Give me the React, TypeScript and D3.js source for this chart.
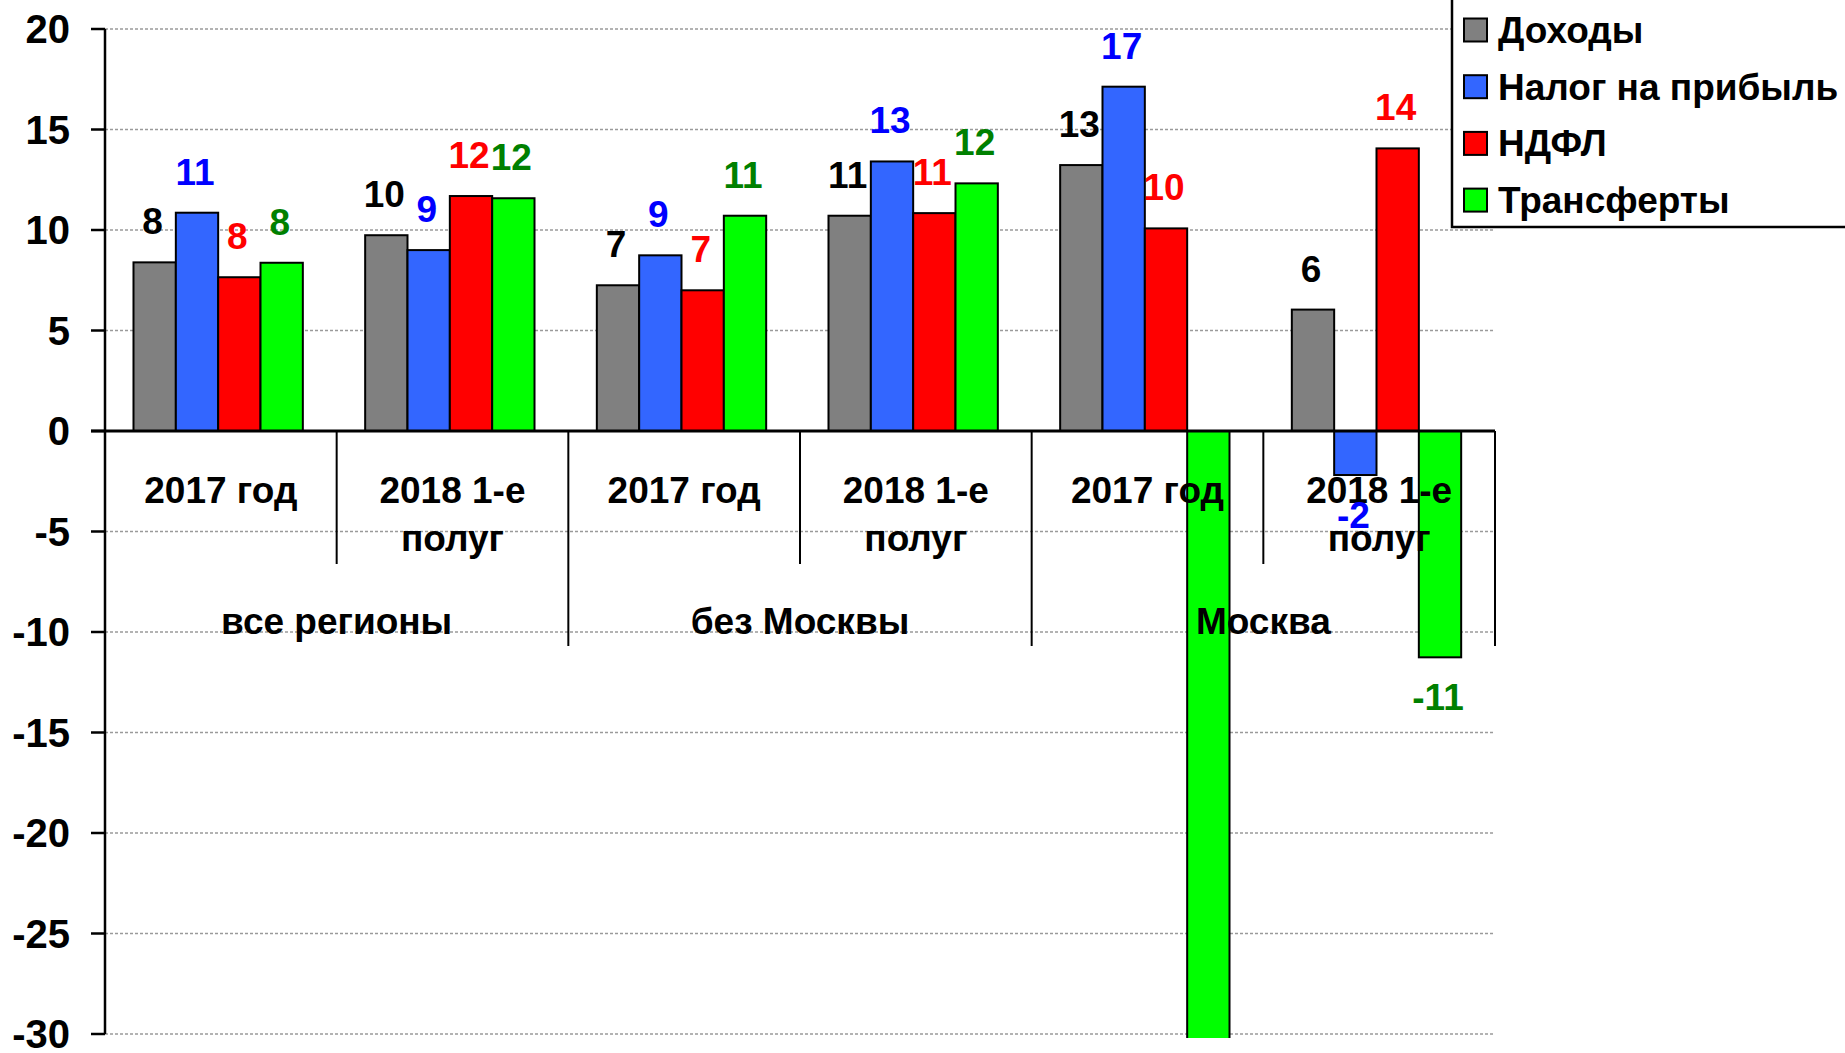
import React from 'react';
import * as d3 from 'd3';

// regions and periods, in the order they appear along the x axis
const regions = ['все регионы', 'без Москвы', 'Москва'];
const periods = [['2017 год'], ['2018 1-е', 'полуг']];
const categories = ['all-2017', 'all-2018', 'noMsk-2017', 'noMsk-2018', 'msk-2017', 'msk-2018'];

const seriesNames = ['Доходы', 'Налог на прибыль', 'НДФЛ', 'Трансферты'];
const dohody = [8.39, 9.74, 7.25, 10.71, 13.23, 6.04];
const nalog = [10.86, 9.0, 8.74, 13.41, 17.13, -2.19];
const ndfl = [7.65, 11.69, 7.0, 10.84, 10.08, 14.06];
const transfers = [8.37, 11.58, 10.71, 12.32, -36, -11.26];

const yTicks = [20, 15, 10, 5, 0, -5, -10, -15, -20, -25, -30];

const fills = ['#808080', '#3366FF', '#FF0000', '#00FF00'];
const labelColors = ['#000000', '#0000FF', '#FF0000', '#008000'];

const W = 1845;
const H = 1053;
const FONT = '"Liberation Sans", Arial, sans-serif';

export default function App() {
  const values = [dohody, nalog, ndfl, transfers];

  const left = 105;
  const right = 1495;
  const y = d3.scaleLinear().domain([-30, 20]).range([1034, 29]);
  const x0 = d3.scaleBand().domain(categories).range([left, right]);
  const bw = x0.bandwidth();
  const x1 = d3.scaleBand().domain(seriesNames).range([bw * 0.123, bw * 0.854]);

  const y0 = y(0);
  const fmt = (v) => String(Math.round(v));

  return (
    <svg width={W} height={H} style={{ position: 'absolute', left: 0, top: 0, background: '#fff' }}
      fontFamily={FONT} fontWeight="bold">
      <defs>
        <clipPath id="plot">
          <rect x={0} y={0} width={W} height={1038} />
        </clipPath>
      </defs>

      {/* gridlines */}
      {yTicks.filter(t => t !== 0).map(t => (
        <line key={'g' + t} x1={left} x2={right} y1={y(t)} y2={y(t)}
          stroke="#9a9a9a" strokeWidth={1.3} strokeDasharray="3,2" />
      ))}

      {/* bars */}
      <g clipPath="url(#plot)">
        {categories.map((c, ci) => seriesNames.map((s, si) => {
          const v = values[si][ci];
          const bx = x0(c) + x1(s);
          return (
            <rect key={c + s} x={bx} width={x1.bandwidth()}
              y={Math.min(y(v), y0)} height={Math.abs(y(v) - y0)}
              fill={fills[si]} stroke="#000" strokeWidth={2} />
          );
        }))}
      </g>

      {/* y axis */}
      <line x1={left} x2={left} y1={y(20)} y2={y(-30)} stroke="#000" strokeWidth={2.5} />
      {yTicks.map(t => (
        <g key={'t' + t}>
          <line x1={left - 14} x2={left} y1={y(t)} y2={y(t)} stroke="#000" strokeWidth={2.5} />
          <text x={70} y={y(t) + 14} textAnchor="end" fontSize={40}>{t}</text>
        </g>
      ))}

      {/* zero line and category separators */}
      <line x1={left - 14} x2={right} y1={y0} y2={y0} stroke="#000" strokeWidth={3} />
      {categories.map((c, ci) => (
        <line key={'s' + c} x1={x0(c) + bw} x2={x0(c) + bw} y1={y0}
          y2={ci % 2 === 1 ? 646 : 564} stroke="#000" strokeWidth={2} />
      ))}

      {/* category labels */}
      {categories.map((c, ci) => (
        <text key={'c' + c} x={x0(c) + bw / 2} y={503} textAnchor="middle" fontSize={37}>
          {periods[ci % 2].map((line, li) => (
            <tspan key={li} x={x0(c) + bw / 2} dy={li === 0 ? 0 : 48}>{line}</tspan>
          ))}
        </text>
      ))}
      {regions.map((r, ri) => (
        <text key={'r' + r} x={x0(categories[ri * 2]) + bw} y={634} textAnchor="middle" fontSize={37}>{r}</text>
      ))}

      {/* data labels */}
      {categories.map((c, ci) => seriesNames.map((s, si) => {
        const v = values[si][ci];
        if (v < -30) return null;
        const cx = x0(c) + x1(s) + x1.bandwidth() / 2 - 2;
        const ty = v >= 0 ? y(v) - 28 : y(v) + 53;
        return (
          <text key={'l' + c + s} x={cx} y={ty} textAnchor="middle" fontSize={37}
            fill={labelColors[si]}>{fmt(v)}</text>
        );
      }))}

      {/* legend */}
      <rect x={1452} y={-5} width={420} height={232} fill="#fff" stroke="#000" strokeWidth={2.5} />
      {seriesNames.map((s, si) => (
        <g key={'lg' + s} transform={`translate(0, ${30 + si * 56.7})`}>
          <rect x={1464} y={-11.5} width={23} height={23} fill={fills[si]} stroke="#000" strokeWidth={2} />
          <text x={1498} y={13} fontSize={37}>{s}</text>
        </g>
      ))}
    </svg>
  );
}
